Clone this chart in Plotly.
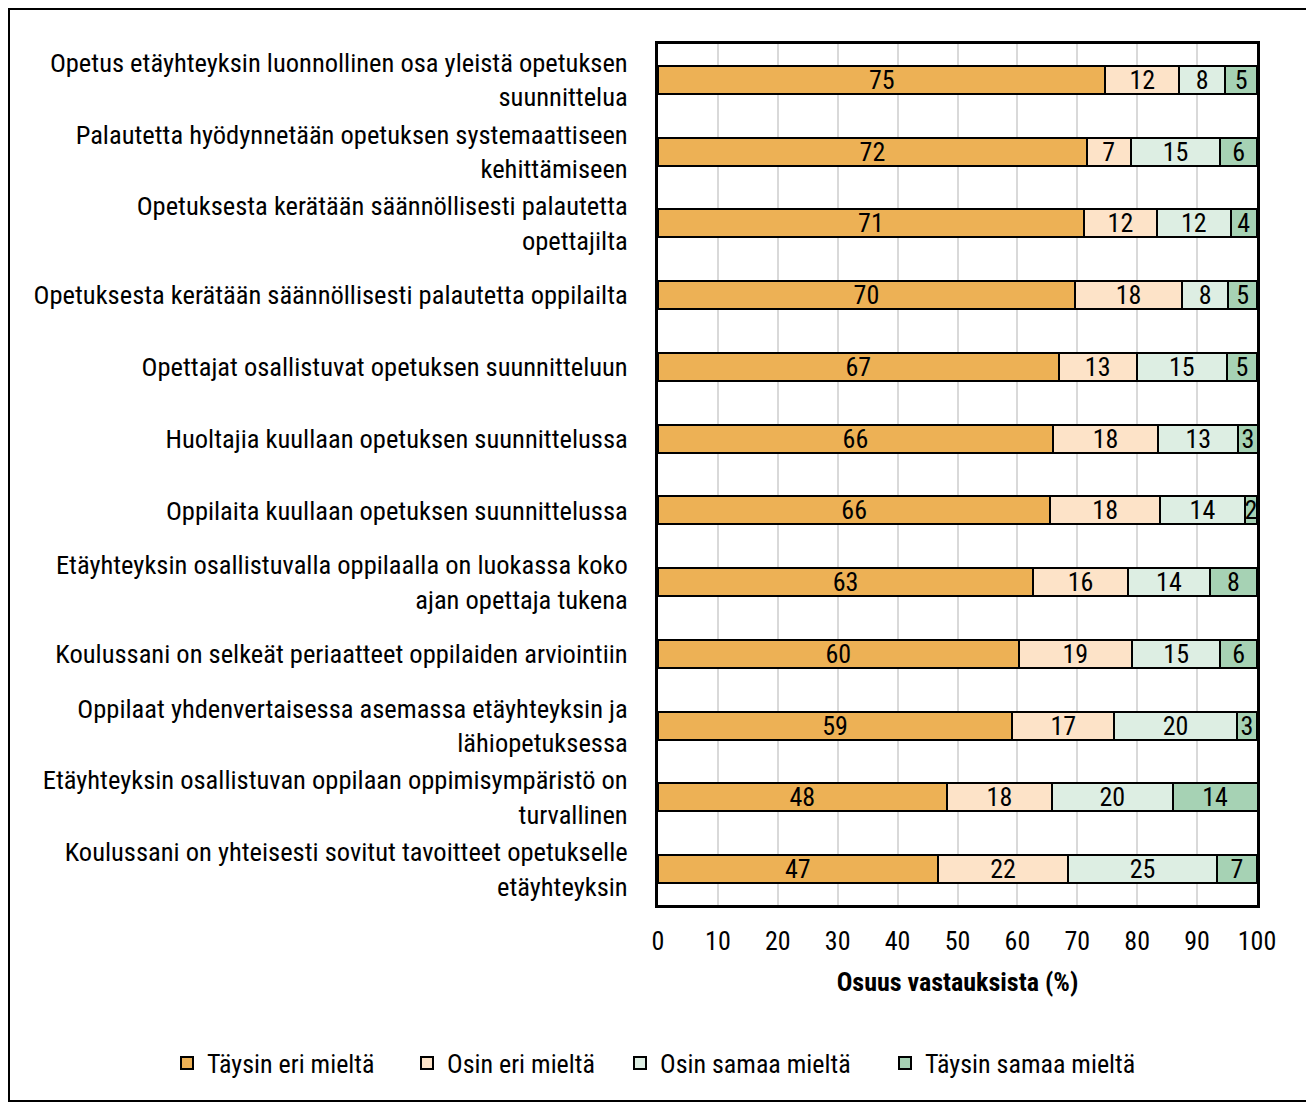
import plotly.graph_objects as go

categories = [
    "Opetus etäyhteyksin luonnollinen osa yleistä opetuksen<br>suunnittelua",
    "Palautetta hyödynnetään opetuksen systemaattiseen<br>kehittämiseen",
    "Opetuksesta kerätään säännöllisesti palautetta<br>opettajilta",
    "Opetuksesta kerätään säännöllisesti palautetta oppilailta",
    "Opettajat osallistuvat opetuksen suunnitteluun",
    "Huoltajia kuullaan opetuksen suunnittelussa",
    "Oppilaita kuullaan opetuksen suunnittelussa",
    "Etäyhteyksin osallistuvalla oppilaalla on luokassa koko<br>ajan opettaja tukena",
    "Koulussani on selkeät periaatteet oppilaiden arviointiin",
    "Oppilaat yhdenvertaisessa asemassa etäyhteyksin ja<br>lähiopetuksessa",
    "Etäyhteyksin osallistuvan oppilaan oppimisympäristö on<br>turvallinen",
    "Koulussani on yhteisesti sovitut tavoitteet opetukselle<br>etäyhteyksin",
]

taysin_eri = [74.7, 71.6, 71.1, 69.6, 66.9, 65.9, 65.5, 62.6, 60.2, 59.1, 48.2, 46.7]
osin_eri = [12.3, 7.3, 12.2, 17.9, 13.0, 17.6, 18.3, 15.9, 18.9, 17.1, 17.6, 21.8]
osin_samaa = [7.7, 15.0, 12.3, 7.7, 15.1, 13.4, 14.2, 13.6, 14.8, 20.4, 20.1, 24.8]
taysin_samaa = [5.3, 6.1, 4.4, 4.8, 5.0, 3.2, 2.0, 7.9, 6.1, 3.4, 14.2, 6.7]

series_names = ["Täysin eri mieltä", "Osin eri mieltä", "Osin samaa mieltä", "Täysin samaa mieltä"]
series_values = [taysin_eri, osin_eri, osin_samaa, taysin_samaa]
colors = ["#EDB155", "#FDE3C8", "#DDEEE3", "#A6D2B4"]

x_ticks = [0, 10, 20, 30, 40, 50, 60, 70, 80, 90, 100]

FONT = "Liberation Sans Narrow, Arial Narrow, Roboto Condensed, Liberation Sans, Arial, sans-serif"
FS = 25

# figure is placed at (8,8) by the page's body margin
W, H = 1304, 1094
L, R, T, B = 650, 1249, 36, 897

legend_ids = ["legend", "legend2", "legend3", "legend4"]
legend_left_px = [159, 399, 612, 877]

fig = go.Figure()
for name, vals, col, lid in zip(series_names, series_values, colors, legend_ids):
    fig.add_trace(go.Bar(
        y=categories, x=vals, name=name, orientation="h", legend=lid,
        marker=dict(color=col, line=dict(color="black", width=2)),
        text=vals, texttemplate="%{x:.0f}", textposition="inside",
        insidetextanchor="middle", textangle=0, constraintext="none",
        textfont=dict(family=FONT, size=26, color="black"),
        hoverinfo="skip",
    ))

legends = {}
for lid, px in zip(legend_ids, legend_left_px):
    legends[lid] = dict(orientation="h", xref="paper", yref="paper",
                        x=(px - L) / (R - L), xanchor="left",
                        y=(B - 1055) / (B - T), yanchor="middle",
                        bgcolor="rgba(0,0,0,0)",
                        font=dict(family=FONT, size=26, color="black"),
                        itemwidth=30)

fig.update_layout(
    width=W, height=H,
    barmode="stack", bargap=0.61,
    plot_bgcolor="white", paper_bgcolor="white",
    margin=dict(l=L, r=W - R, t=T, b=H - B),
    font=dict(family=FONT, size=FS, color="black"),
    uniformtext=dict(minsize=26, mode="show"),
    showlegend=True,
    **legends,
)

fig.update_xaxes(
    range=[0, 100], tickvals=x_ticks, ticks="", showgrid=True,
    gridcolor="#D9D9D9", gridwidth=2, zeroline=False,
    showline=True, linecolor="black", linewidth=3, mirror=True,
    ticklabelstandoff=11,
    tickfont=dict(family=FONT, size=26, color="black"),
    title=dict(text="<b>Osuus vastauksista (%)</b>", standoff=18,
               font=dict(family=FONT, size=26, color="black")),
)
fig.update_yaxes(
    autorange="reversed", showgrid=False, ticks="",
    showline=True, linecolor="black", linewidth=3, mirror=True,
    ticklabelstandoff=22,
    tickfont=dict(family=FONT, size=26.5, color="black"),
)

# outer frame around the whole figure
fig.add_shape(type="rect", xref="paper", yref="paper",
              x0=(1 - L) / (R - L), x1=(W - 1 - L) / (R - L),
              y0=(B - (H - 1)) / (B - T), y1=(B - 1) / (B - T),
              line=dict(color="black", width=2), fillcolor="rgba(0,0,0,0)", layer="below")

fig.write_html("out.html")
